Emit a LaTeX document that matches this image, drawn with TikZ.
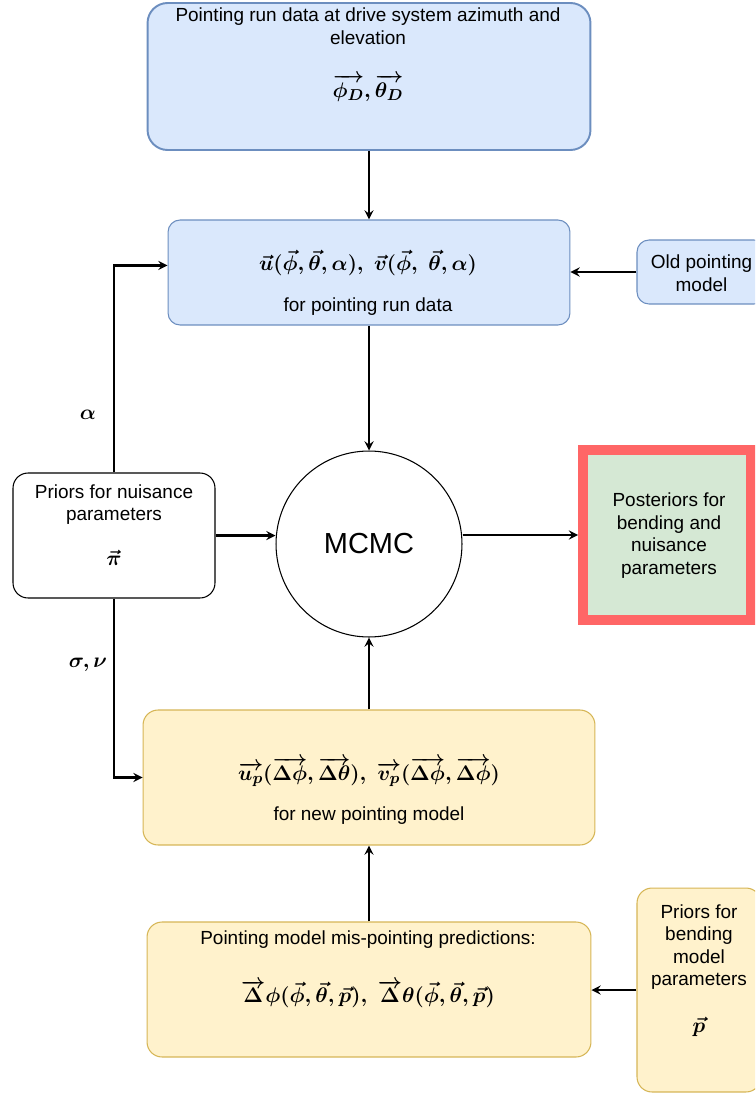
\documentclass[tikz,border=0pt]{standalone}
\usepackage{amsmath}
\usepackage{fontspec}
\setmainfont{Liberation Sans}
\usetikzlibrary{positioning}
\definecolor{bluefill}{HTML}{DAE8FC}
\definecolor{blueline}{HTML}{6C8EBF}
\definecolor{yellowfill}{HTML}{FFF2CC}
\definecolor{yellowline}{HTML}{D6B656}
\definecolor{greenfill}{HTML}{D5E8D4}
\definecolor{redline}{HTML}{FF6666}
\begin{document}
\begin{tikzpicture}[x=0.02cm,y=-0.02cm,
        bluebox/.style={draw=blueline,fill=bluefill,rounded corners=0.24cm,line width=0.6pt},
        yellowbox/.style={draw=yellowline,fill=yellowfill,rounded corners=0.3cm,line width=0.6pt},
        txt/.style={font=\fontsize{10.8}{12.8}\selectfont,align=center,inner sep=0pt},
        mth/.style={font=\fontsize{13.2}{15}\selectfont\boldmath,inner sep=0pt},
        arr/.style={-stealth,line width=1.3pt}]
        \useasboundingbox(0,0)rectangle(755,1095);
        \clip(0,0)rectangle(755,1095);
        % boxes
        \node[bluebox,rounded corners=0.4cm,line width=1.1pt,minimum width=8.86cm,minimum height=2.94cm](data)at(369,76.5){};
        \node[bluebox,minimum width=8.04cm,minimum height=2.1cm](uv)at(369,272.5){};
        \node[bluebox,minimum width=2.58cm,minimum height=1.28cm](old)at(701.5,272){};
        \node[circle,draw,fill=white,line width=0.6pt,minimum size=3.72cm](mcmc)at(369,544){};
        \node[draw,fill=white,rounded corners=0.3cm,line width=0.6pt,minimum width=4.04cm,minimum height=2.5cm](nuis)at(114,535.5){};
        \node[draw=redline,fill=greenfill,line width=5.7pt,minimum width=3.36cm,minimum height=3.4cm](post)at(667,535){};
        \node[yellowbox,minimum width=9.04cm,minimum height=2.7cm](newm)at(369,777.5){};
        \node[yellowbox,minimum width=8.88cm,minimum height=2.7cm](misp)at(369,989.5){};
        \node[yellowbox,minimum width=2.48cm,minimum height=4.08cm](bend)at(699,990){};
        % texts
        \node[txt](datatxt)at(368,26){Pointing run data at drive system azimuth and\\elevation};
        \node[mth](datamth)at(368,88){$\overrightarrow{\phi_D},\overrightarrow{\theta_D}$};
        \node[mth](uvmth)at(368,263){$\vec{u}(\vec{\phi},\vec{\theta},\alpha),\ \vec{v}(\vec{\phi},\ \vec{\theta},\alpha)$};
        \node[txt](uvtxt)at(368,307){for pointing run data};
        \node[txt](oldtxt)at(701.5,273){Old pointing\\model};
        \node[font=\fontsize{16.5}{18}\selectfont](mcmctxt)at(369,544){MCMC};
        \node[txt](nuistxt)at(114,504.5){Priors for nuisance\\parameters};
        \node[mth](nuismth)at(114,558){$\vec{\pi}$};
        \node[txt](posttxt)at(669,535.5){Posteriors for\\bending and\\nuisance\\parameters};
        \node[mth](newmmth)at(369,772){$\overrightarrow{u_p}(\overrightarrow{\Delta\phi},\overrightarrow{\Delta\theta}),\ \overrightarrow{v_p}(\overrightarrow{\Delta\phi},\overrightarrow{\Delta\phi})$};
        \node[txt](newmtxt)at(369,816){for new pointing model};
        \node[txt](misptxt)at(368,940){Pointing model mis-pointing predictions:};
        \node[mth](mispmth)at(368,994){$\overrightarrow{\Delta}\phi(\vec{\phi},\vec{\theta},\vec{p}),\ \overrightarrow{\Delta}\theta(\vec{\phi},\vec{\theta},\vec{p})$};
        \node[txt](bendtxt)at(699,947){Priors for\\bending\\model\\parameters};
        \node[mth](bendmth)at(699,1027){$\vec{p}$};
        % connectors
        \draw[arr](data.south)--(uv.north);
        \draw[arr](uv.south)--(mcmc.north);
        \draw[arr](old.west)--(old.west-|uv.east);
        \draw[arr](nuis.north)|-([yshift=4pt]uv.west);
        \node[mth](alpha)at(88,415){$\alpha$};
        \draw[arr](nuis.east)--(nuis.east-|mcmc.west);
        \draw[arr](post.west-|mcmc.east)--(post.west);
        \draw[arr](nuis.south)|-(newm.west);
        \node[mth](signu)at(88,665){$\sigma,\nu$};
        \draw[arr](newm.north)--(mcmc.south);
        \draw[arr](misp.north)--(newm.south);
        \draw[arr](bend.west)--(bend.west-|misp.east);
\end{tikzpicture}
\end{document}
